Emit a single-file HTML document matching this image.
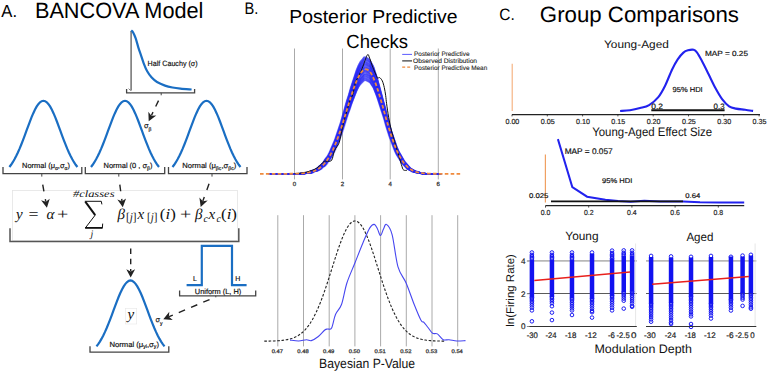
<!DOCTYPE html>
<html><head><meta charset="utf-8"><style>
html,body{margin:0;padding:0;background:#fff;width:768px;height:372px;overflow:hidden;}
svg{display:block;text-rendering:geometricPrecision;}

</style></head><body>
<svg width="768" height="372" viewBox="0 0 768 372"><text x="1.27" y="16.5" font-size="17.5" font-family='"Liberation Sans", sans-serif' fill="#000" textLength="15.75" lengthAdjust="spacingAndGlyphs">A.</text>
<text x="34.92" y="18.3" font-size="22.2" font-family='"Liberation Sans", sans-serif' fill="#000" textLength="168.54" lengthAdjust="spacingAndGlyphs">BANCOVA Model</text>
<line x1="131.1" y1="31" x2="131.1" y2="90.4" stroke="#666" stroke-width="1.4" />
<path d="M131.2,30.4 C131.5,30.7 132.25,30.87 133,32.2 C133.75,33.53 134.82,35.88 135.7,38.4 C136.58,40.92 137.42,44.48 138.3,47.3 C139.18,50.12 140.1,52.63 141,55.3 C141.9,57.97 142.67,60.63 143.7,63.3 C144.73,65.97 145.87,68.92 147.2,71.3 C148.53,73.68 150.07,75.82 151.7,77.6 C153.33,79.38 154.78,80.67 157,82 C159.22,83.33 162.42,84.68 165,85.6 C167.58,86.52 169.92,87 172.5,87.5 C175.08,88 177.32,88.27 180.5,88.6 C183.68,88.93 189.75,89.35 191.6,89.5" stroke="#1a6ec3" stroke-width="2.2" fill="none" />
<path d="M128.6,88.6 L130.2,90.2 L131.1,90.2" stroke="#777" stroke-width="0.9" fill="none" />
<text x="147.6" y="66.3" font-size="7.6" font-family='"Liberation Sans", sans-serif' fill="#111" textLength="50" lengthAdjust="spacingAndGlyphs" stroke="#111" stroke-width="0.18">Half Cauchy (σ)</text>
<path d="M126.6,89 L126.6,92.8 L194.6,92.8 L194.6,89" stroke="#444" stroke-width="1.3" fill="none" stroke-linejoin="miter"/>
<line x1="161.2" y1="92.8" x2="161.2" y2="95.3" stroke="#444" stroke-width="1" />
<path d="M9.4,167 L11.1,164.77 L12.8,162.21 L14.5,159.31 L16.2,156.07 L17.9,152.51 L19.6,148.63 L21.3,144.47 L23,140.1 L24.7,135.55 L26.4,130.92 L28.1,126.3 L29.8,121.77 L31.5,117.44 L33.2,113.41 L34.9,109.8 L36.6,106.69 L38.3,104.17 L40,102.32 L41.7,101.18 L43.4,100.8 L45.1,101.18 L46.8,102.32 L48.5,104.17 L50.2,106.69 L51.9,109.8 L53.6,113.41 L55.3,117.44 L57,121.77 L58.7,126.3 L60.4,130.92 L62.1,135.55 L63.8,140.1 L65.5,144.47 L67.2,148.63 L68.9,152.51 L70.6,156.07 L72.3,159.31 L74,162.21 L75.7,164.77 L77.4,167" stroke="#1a6ec3" stroke-width="2.2" fill="none" stroke-linecap="butt"/>
<path d="M91,167 L92.7,164.77 L94.4,162.21 L96.1,159.31 L97.8,156.07 L99.5,152.51 L101.2,148.63 L102.9,144.47 L104.6,140.1 L106.3,135.55 L108,130.92 L109.7,126.3 L111.4,121.77 L113.1,117.44 L114.8,113.41 L116.5,109.8 L118.2,106.69 L119.9,104.17 L121.6,102.32 L123.3,101.18 L125,100.8 L126.7,101.18 L128.4,102.32 L130.1,104.17 L131.8,106.69 L133.5,109.8 L135.2,113.41 L136.9,117.44 L138.6,121.77 L140.3,126.3 L142,130.92 L143.7,135.55 L145.4,140.1 L147.1,144.47 L148.8,148.63 L150.5,152.51 L152.2,156.07 L153.9,159.31 L155.6,162.21 L157.3,164.77 L159,167" stroke="#1a6ec3" stroke-width="2.2" fill="none" stroke-linecap="butt"/>
<path d="M172.5,167 L174.2,164.77 L175.9,162.21 L177.6,159.31 L179.3,156.07 L181,152.51 L182.7,148.63 L184.4,144.47 L186.1,140.1 L187.8,135.55 L189.5,130.92 L191.2,126.3 L192.9,121.77 L194.6,117.44 L196.3,113.41 L198,109.8 L199.7,106.69 L201.4,104.17 L203.1,102.32 L204.8,101.18 L206.5,100.8 L208.2,101.18 L209.9,102.32 L211.6,104.17 L213.3,106.69 L215,109.8 L216.7,113.41 L218.4,117.44 L220.1,121.77 L221.8,126.3 L223.5,130.92 L225.2,135.55 L226.9,140.1 L228.6,144.47 L230.3,148.63 L232,152.51 L233.7,156.07 L235.4,159.31 L237.1,162.21 L238.8,164.77 L240.5,167" stroke="#1a6ec3" stroke-width="2.2" fill="none" stroke-linecap="butt"/>
<path d="M3,167 L3,173.6 L81.8,173.6 L81.8,167" stroke="#444" stroke-width="1.3" fill="none" stroke-linejoin="miter"/>
<line x1="41.8" y1="173.6" x2="41.8" y2="176.6" stroke="#444" stroke-width="1" />
<path d="M85.3,167 L85.3,173.6 L164.7,173.6 L164.7,167" stroke="#444" stroke-width="1.3" fill="none" stroke-linejoin="miter"/>
<line x1="118.8" y1="173.6" x2="118.8" y2="176.6" stroke="#444" stroke-width="1" />
<path d="M168.5,167 L168.5,173.6 L247,173.6 L247,167" stroke="#444" stroke-width="1.3" fill="none" stroke-linejoin="miter"/>
<line x1="212" y1="173.6" x2="212" y2="176.6" stroke="#444" stroke-width="1" />
<text x="22" y="168" font-size="7.4" font-family='"Liberation Sans", sans-serif' fill="#111" textLength="48" lengthAdjust="spacingAndGlyphs" stroke="#111" stroke-width="0.18">Normal (μ<tspan dy="1.6" font-size="5">α</tspan><tspan dy="-1.6">,σ</tspan><tspan dy="1.6" font-size="5">α</tspan><tspan dy="-1.6">)</tspan></text>
<text x="103.5" y="168" font-size="7.4" font-family='"Liberation Sans", sans-serif' fill="#111" textLength="49" lengthAdjust="spacingAndGlyphs" stroke="#111" stroke-width="0.18">Normal (0 , σ<tspan dy="1.6" font-size="5">β</tspan><tspan dy="-1.6">)</tspan></text>
<text x="182.3" y="168" font-size="7.4" font-family='"Liberation Sans", sans-serif' fill="#111" textLength="54" lengthAdjust="spacingAndGlyphs" stroke="#111" stroke-width="0.18">Normal (μ<tspan dy="1.6" font-size="5">βc</tspan><tspan dy="-1.6">,σ</tspan><tspan dy="1.6" font-size="5">βc</tspan><tspan dy="-1.6">)</tspan></text>
<text x="144" y="128" font-size="7.4" font-family='"Liberation Sans", sans-serif' fill="#111" stroke="#111" stroke-width="0.18">σ<tspan dy="2.5" font-size="5">β</tspan></text>
<line x1="161.2" y1="95" x2="151.41" y2="115.51" stroke="#222" stroke-width="1.4" stroke-dasharray="6.6,6.2" stroke-dashoffset="6.6"/>
<path d="M148.7,121.2 L148.35,111.72 L151.3,115.74 L156.29,115.51 Z" fill="#222"/>
<rect x="12.5" y="190.5" width="225" height="50" fill="none" stroke="#e4e4e4" stroke-width="0.8"/>
<path d="M10,228.2 L10,241.5 L238.8,241.5 L238.8,228.2" stroke="#555" stroke-width="1.5" fill="none" stroke-linejoin="miter"/>
<line x1="130.8" y1="241.5" x2="130.8" y2="241.5" stroke="#555" stroke-width="1" />
<line x1="41.3" y1="176.8" x2="45.78" y2="201.6" stroke="#222" stroke-width="1.4" stroke-dasharray="6.7,8" stroke-dashoffset="6.7"/>
<path d="M46.9,207.8 L41.08,200.32 L45.82,201.85 L49.74,198.75 Z" fill="#222"/>
<line x1="118.8" y1="177" x2="121.98" y2="201.05" stroke="#222" stroke-width="1.4" stroke-dasharray="6.7,7.7" stroke-dashoffset="6.7"/>
<path d="M122.8,207.3 L117.34,199.55 L122.01,201.3 L126.06,198.4 Z" fill="#222"/>
<line x1="211.6" y1="176.8" x2="202.84" y2="201.07" stroke="#222" stroke-width="1.4" stroke-dasharray="6.5,7.5" stroke-dashoffset="6.5"/>
<path d="M200.7,207 L199.41,197.61 L202.75,201.31 L207.69,200.59 Z" fill="#222"/>
<text x="16" y="218.5" font-size="15" font-family='"Liberation Serif", serif' fill="#111" font-style="italic">y</text>
<text x="28.5" y="218.5" font-size="15" font-family='"Liberation Serif", serif' fill="#111" textLength="10" lengthAdjust="spacingAndGlyphs">=</text>
<text x="46.5" y="218.5" font-size="15" font-family='"Liberation Serif", serif' fill="#111" font-style="italic">α</text>
<text x="57" y="218.5" font-size="15" font-family='"Liberation Serif", serif' fill="#111" textLength="11.3" lengthAdjust="spacingAndGlyphs">+</text>
<text x="72.9" y="197.4" font-size="9.8" font-family='"Liberation Serif", serif' fill="#111" font-style="italic" textLength="41.6" lengthAdjust="spacingAndGlyphs">#classes</text>
<path d="M84.8,201.3 L101.3,201.3 L101.9,204.4" stroke="#111" stroke-width="1.0" fill="none" />
<path d="M85.3,201.6 L95.2,215.1" stroke="#111" stroke-width="2.0" fill="none" />
<path d="M95.2,215.1 L85.3,228" stroke="#111" stroke-width="1.0" fill="none" />
<path d="M85.1,227.9 L102.3,227.9" stroke="#111" stroke-width="1.8" fill="none" />
<path d="M102.3,228.4 L102.7,223.6" stroke="#111" stroke-width="1.0" fill="none" />
<text x="90.6" y="236.5" font-size="10" font-family='"Liberation Serif", serif' fill="#111" font-style="italic">j</text>
<text x="117.5" y="218.5" font-size="15" font-family='"Liberation Serif", serif' fill="#111" font-style="italic">β</text>
<text x="125.9" y="221.3" font-size="12" font-family='"Liberation Serif", serif' fill="#111" textLength="10.6" lengthAdjust="spacingAndGlyphs">[<tspan font-style="italic">j</tspan>]</text>
<text x="137.6" y="218.5" font-size="15" font-family='"Liberation Serif", serif' fill="#111" font-style="italic">x</text>
<text x="147.1" y="221.3" font-size="12" font-family='"Liberation Serif", serif' fill="#111" textLength="10.4" lengthAdjust="spacingAndGlyphs">[<tspan font-style="italic">j</tspan>]</text>
<text x="159.8" y="218.5" font-size="15" font-family='"Liberation Serif", serif' fill="#111" textLength="16" lengthAdjust="spacingAndGlyphs">(<tspan font-style="italic">i</tspan>)</text>
<text x="180" y="218.5" font-size="15" font-family='"Liberation Serif", serif' fill="#111" textLength="11.3" lengthAdjust="spacingAndGlyphs">+</text>
<text x="195" y="218.5" font-size="15" font-family='"Liberation Serif", serif' fill="#111" font-style="italic">β</text>
<text x="203.5" y="221.8" font-size="10" font-family='"Liberation Serif", serif' fill="#111" font-style="italic">c</text>
<text x="208.5" y="218.5" font-size="15" font-family='"Liberation Serif", serif' fill="#111" font-style="italic">x</text>
<text x="216.5" y="221.8" font-size="10" font-family='"Liberation Serif", serif' fill="#111" font-style="italic">c</text>
<text x="221" y="218.5" font-size="15" font-family='"Liberation Serif", serif' fill="#111" textLength="16" lengthAdjust="spacingAndGlyphs">(<tspan font-style="italic">i</tspan>)</text>
<path d="M186.6,285.2 L201.8,285.2 L201.8,245.8 L232,245.8 L232,285.2 L246.6,285.2" stroke="#1a6ec3" stroke-width="2.2" fill="none" />
<text x="193" y="281.3" font-size="7" font-family='"Liberation Sans", sans-serif' fill="#111" stroke="#111" stroke-width="0.18">L</text>
<text x="235.3" y="281.3" font-size="7" font-family='"Liberation Sans", sans-serif' fill="#111" stroke="#111" stroke-width="0.18">H</text>
<path d="M179.6,290.6 L179.6,295.8 L255.7,295.8 L255.7,290.6" stroke="#444" stroke-width="1.3" fill="none" stroke-linejoin="miter"/>
<line x1="215.8" y1="295.8" x2="215.8" y2="297.3" stroke="#444" stroke-width="1" />
<text x="194.8" y="293.6" font-size="7.4" font-family='"Liberation Sans", sans-serif' fill="#111" textLength="46.5" lengthAdjust="spacingAndGlyphs" stroke="#111" stroke-width="0.18">Uniform (L, H)</text>
<path d="M96.5,346.3 L98.2,344.08 L99.9,341.54 L101.6,338.66 L103.3,335.44 L105,331.89 L106.7,328.04 L108.4,323.91 L110.1,319.56 L111.8,315.04 L113.5,310.44 L115.2,305.84 L116.9,301.34 L118.6,297.04 L120.3,293.04 L122,289.44 L123.7,286.35 L125.4,283.85 L127.1,282.01 L128.8,280.88 L130.5,280.5 L132.2,280.88 L133.9,282.01 L135.6,283.85 L137.3,286.35 L139,289.44 L140.7,293.04 L142.4,297.04 L144.1,301.34 L145.8,305.84 L147.5,310.44 L149.2,315.04 L150.9,319.56 L152.6,323.91 L154.3,328.04 L156,331.89 L157.7,335.44 L159.4,338.66 L161.1,341.54 L162.8,344.08 L164.5,346.3" stroke="#1a6ec3" stroke-width="2.2" fill="none" stroke-linecap="butt"/>
<rect x="125.3" y="308.4" width="11.4" height="15.6" fill="none" stroke="#e6e6e6" stroke-width="0.6"/>
<text x="127.6" y="319.2" font-size="15" font-family='"Liberation Serif", serif' fill="#111" font-style="italic">y</text>
<text x="155.5" y="322" font-size="7.4" font-family='"Liberation Sans", sans-serif' fill="#111" stroke="#111" stroke-width="0.18">σ<tspan dy="2.5" font-size="5">y</tspan></text>
<text x="109.4" y="346.6" font-size="7.4" font-family='"Liberation Sans", sans-serif' fill="#111" textLength="49.6" lengthAdjust="spacingAndGlyphs" stroke="#111" stroke-width="0.18">Normal (μ<tspan dy="1.6" font-size="5">yi</tspan><tspan dy="-1.6">,σ</tspan><tspan dy="1.6" font-size="5">y</tspan><tspan dy="-1.6">)</tspan></text>
<path d="M90,346.3 L90,352.2 L168.8,352.2 L168.8,346.3" stroke="#444" stroke-width="1.3" fill="none" stroke-linejoin="miter"/>
<line x1="130.7" y1="243.9" x2="130.7" y2="271.3" stroke="#222" stroke-width="1.4" stroke-dasharray="5.6,4.6" stroke-dashoffset="5.6"/>
<path d="M130.7,277.6 L126.3,269.2 L130.7,271.55 L135.1,269.2 Z" fill="#222"/>
<line x1="215.5" y1="297" x2="169.1" y2="316.73" stroke="#222" stroke-width="1.4" stroke-dasharray="6.8,6.5" stroke-dashoffset="6.8"/>
<path d="M163.3,319.2 L169.31,311.86 L168.87,316.83 L172.75,319.96 Z" fill="#222"/>
<text x="244.4" y="13.7" font-size="16.9" font-family='"Liberation Sans", sans-serif' fill="#000" textLength="13.83" lengthAdjust="spacingAndGlyphs">B.</text>
<text x="289.31" y="23.2" font-size="18.9" font-family='"Liberation Sans", sans-serif' fill="#000" textLength="168.14" lengthAdjust="spacingAndGlyphs">Posterior Predictive</text>
<text x="346.36" y="48.2" font-size="19.1" font-family='"Liberation Sans", sans-serif' fill="#000" textLength="61.62" lengthAdjust="spacingAndGlyphs">Checks</text>
<line x1="294.5" y1="48.5" x2="294.5" y2="179.4" stroke="#a0a0a0" stroke-width="0.9" />
<line x1="342.5" y1="48.5" x2="342.5" y2="179.4" stroke="#a0a0a0" stroke-width="0.9" />
<line x1="390.2" y1="48.5" x2="390.2" y2="179.4" stroke="#a0a0a0" stroke-width="0.9" />
<line x1="438.3" y1="48.5" x2="438.3" y2="179.4" stroke="#a0a0a0" stroke-width="0.9" />
<text x="294.5" y="185.8" font-size="6.1" font-family='"Liberation Sans", sans-serif' fill="#333" text-anchor="middle" stroke="#333" stroke-width="0.25">0</text>
<text x="342.5" y="185.8" font-size="6.1" font-family='"Liberation Sans", sans-serif' fill="#333" text-anchor="middle" stroke="#333" stroke-width="0.25">2</text>
<text x="390.2" y="185.8" font-size="6.1" font-family='"Liberation Sans", sans-serif' fill="#333" text-anchor="middle" stroke="#333" stroke-width="0.25">4</text>
<text x="438.3" y="185.8" font-size="6.1" font-family='"Liberation Sans", sans-serif' fill="#333" text-anchor="middle" stroke="#333" stroke-width="0.25">6</text>
<defs><path id="ug" d="M-5,-0 L-4.9,-0 L-4.8,-0 L-4.7,-0 L-4.6,-0 L-4.5,-0 L-4.4,-0 L-4.3,-0 L-4.2,-0 L-4.1,-0 L-4,-0 L-3.9,-0 L-3.8,-0 L-3.7,-0 L-3.6,-0 L-3.5,-0 L-3.4,-0 L-3.3,-0.01 L-3.2,-0.01 L-3.1,-0.01 L-3,-0.01 L-2.9,-0.02 L-2.8,-0.03 L-2.7,-0.03 L-2.6,-0.04 L-2.5,-0.05 L-2.4,-0.07 L-2.3,-0.08 L-2.2,-0.1 L-2.1,-0.13 L-2,-0.15 L-1.9,-0.18 L-1.8,-0.22 L-1.7,-0.26 L-1.6,-0.3 L-1.5,-0.35 L-1.4,-0.4 L-1.3,-0.45 L-1.2,-0.51 L-1.1,-0.57 L-1,-0.63 L-0.9,-0.68 L-0.8,-0.74 L-0.7,-0.79 L-0.6,-0.84 L-0.5,-0.89 L-0.4,-0.93 L-0.3,-0.96 L-0.2,-0.98 L-0.1,-1 L0,-1 L0.1,-0.99 L0.2,-0.98 L0.3,-0.95 L0.4,-0.92 L0.5,-0.87 L0.6,-0.82 L0.7,-0.76 L0.8,-0.7 L0.9,-0.64 L1,-0.58 L1.1,-0.51 L1.2,-0.45 L1.3,-0.39 L1.4,-0.34 L1.5,-0.29 L1.6,-0.24 L1.7,-0.2 L1.8,-0.17 L1.9,-0.14 L2,-0.11 L2.1,-0.09 L2.2,-0.07 L2.3,-0.05 L2.4,-0.04 L2.5,-0.03 L2.6,-0.02 L2.7,-0.02 L2.8,-0.01 L2.9,-0.01 L3,-0.01 L3.1,-0 L3.2,-0 L3.3,-0 L3.4,-0 L3.5,-0 L3.6,-0 L3.7,-0 L3.8,-0 L3.9,-0" fill="none" vector-effect="non-scaling-stroke"/></defs>
<use href="#ug" transform="translate(366.24,173.8) scale(19.048,93.09)" stroke="#2a2af5" stroke-width="1.25" stroke-opacity="0.4"/>
<use href="#ug" transform="translate(365.96,173.8) scale(18.317,93.34)" stroke="#2a2af5" stroke-width="1.25" stroke-opacity="0.4"/>
<use href="#ug" transform="translate(366,173.8) scale(18.586,93.73)" stroke="#2a2af5" stroke-width="1.25" stroke-opacity="0.4"/>
<use href="#ug" transform="translate(366.04,173.8) scale(18.862,94.36)" stroke="#2a2af5" stroke-width="1.25" stroke-opacity="0.4"/>
<use href="#ug" transform="translate(365.91,173.8) scale(18.798,94.75)" stroke="#2a2af5" stroke-width="1.25" stroke-opacity="0.4"/>
<use href="#ug" transform="translate(365.65,173.8) scale(18.004,95.03)" stroke="#2a2af5" stroke-width="1.25" stroke-opacity="0.4"/>
<use href="#ug" transform="translate(366.33,173.8) scale(17.804,95.65)" stroke="#2a2af5" stroke-width="1.25" stroke-opacity="0.4"/>
<use href="#ug" transform="translate(365.87,173.8) scale(18.914,95.73)" stroke="#2a2af5" stroke-width="1.25" stroke-opacity="0.4"/>
<use href="#ug" transform="translate(366.12,173.8) scale(18.961,96.19)" stroke="#2a2af5" stroke-width="1.25" stroke-opacity="0.4"/>
<use href="#ug" transform="translate(366.24,173.8) scale(18.929,96.99)" stroke="#2a2af5" stroke-width="1.25" stroke-opacity="0.4"/>
<use href="#ug" transform="translate(366.18,173.8) scale(18.340,97.28)" stroke="#2a2af5" stroke-width="1.25" stroke-opacity="0.4"/>
<use href="#ug" transform="translate(366.05,173.8) scale(18.960,97.34)" stroke="#2a2af5" stroke-width="1.25" stroke-opacity="0.4"/>
<use href="#ug" transform="translate(366.08,173.8) scale(18.379,98.11)" stroke="#2a2af5" stroke-width="1.25" stroke-opacity="0.4"/>
<use href="#ug" transform="translate(366.05,173.8) scale(18.368,98.45)" stroke="#2a2af5" stroke-width="1.25" stroke-opacity="0.4"/>
<use href="#ug" transform="translate(365.86,173.8) scale(18.603,98.98)" stroke="#2a2af5" stroke-width="1.25" stroke-opacity="0.4"/>
<use href="#ug" transform="translate(365.94,173.8) scale(17.871,99.24)" stroke="#2a2af5" stroke-width="1.25" stroke-opacity="0.4"/>
<use href="#ug" transform="translate(366.54,173.8) scale(18.428,99.74)" stroke="#2a2af5" stroke-width="1.25" stroke-opacity="0.4"/>
<use href="#ug" transform="translate(366.17,173.8) scale(18.097,99.77)" stroke="#2a2af5" stroke-width="1.25" stroke-opacity="0.4"/>
<use href="#ug" transform="translate(366,173.8) scale(18.584,100.19)" stroke="#2a2af5" stroke-width="1.25" stroke-opacity="0.4"/>
<use href="#ug" transform="translate(365.74,173.8) scale(18.749,100.90)" stroke="#2a2af5" stroke-width="1.25" stroke-opacity="0.4"/>
<use href="#ug" transform="translate(366.28,173.8) scale(18.453,101.43)" stroke="#2a2af5" stroke-width="1.25" stroke-opacity="0.4"/>
<use href="#ug" transform="translate(365.89,173.8) scale(18.302,101.66)" stroke="#2a2af5" stroke-width="1.25" stroke-opacity="0.4"/>
<use href="#ug" transform="translate(365.92,173.8) scale(19.139,102.20)" stroke="#2a2af5" stroke-width="1.25" stroke-opacity="0.4"/>
<use href="#ug" transform="translate(366.12,173.8) scale(19.294,102.50)" stroke="#2a2af5" stroke-width="1.25" stroke-opacity="0.4"/>
<use href="#ug" transform="translate(365.98,173.8) scale(19.464,102.89)" stroke="#2a2af5" stroke-width="1.25" stroke-opacity="0.4"/>
<use href="#ug" transform="translate(366.2,173.8) scale(18.239,103.07)" stroke="#2a2af5" stroke-width="1.25" stroke-opacity="0.4"/>
<use href="#ug" transform="translate(366.03,173.8) scale(18.458,103.31)" stroke="#2a2af5" stroke-width="1.25" stroke-opacity="0.4"/>
<use href="#ug" transform="translate(366.12,173.8) scale(19.356,103.77)" stroke="#2a2af5" stroke-width="1.25" stroke-opacity="0.4"/>
<use href="#ug" transform="translate(366.2,173.8) scale(18.706,104.18)" stroke="#2a2af5" stroke-width="1.25" stroke-opacity="0.4"/>
<use href="#ug" transform="translate(366.11,173.8) scale(19.093,105.02)" stroke="#2a2af5" stroke-width="1.25" stroke-opacity="0.4"/>
<use href="#ug" transform="translate(365.75,173.8) scale(19.266,105.23)" stroke="#2a2af5" stroke-width="1.25" stroke-opacity="0.4"/>
<use href="#ug" transform="translate(366.2,173.8) scale(18.624,105.82)" stroke="#2a2af5" stroke-width="1.25" stroke-opacity="0.4"/>
<use href="#ug" transform="translate(365.67,173.8) scale(19.473,105.92)" stroke="#2a2af5" stroke-width="1.25" stroke-opacity="0.4"/>
<use href="#ug" transform="translate(366.13,173.8) scale(18.834,106.19)" stroke="#2a2af5" stroke-width="1.25" stroke-opacity="0.4"/>
<use href="#ug" transform="translate(366.03,173.8) scale(18.154,106.64)" stroke="#2a2af5" stroke-width="1.25" stroke-opacity="0.4"/>
<use href="#ug" transform="translate(366.01,173.8) scale(19.129,107.06)" stroke="#2a2af5" stroke-width="1.25" stroke-opacity="0.4"/>
<use href="#ug" transform="translate(365.8,173.8) scale(17.769,107.52)" stroke="#2a2af5" stroke-width="1.25" stroke-opacity="0.4"/>
<use href="#ug" transform="translate(365.97,173.8) scale(18.132,108.11)" stroke="#2a2af5" stroke-width="1.25" stroke-opacity="0.4"/>
<use href="#ug" transform="translate(366.14,173.8) scale(19.532,108.51)" stroke="#2a2af5" stroke-width="1.25" stroke-opacity="0.4"/>
<use href="#ug" transform="translate(365.75,173.8) scale(19.219,108.97)" stroke="#2a2af5" stroke-width="1.25" stroke-opacity="0.4"/>
<use href="#ug" transform="translate(366.06,173.8) scale(18.545,109.14)" stroke="#2a2af5" stroke-width="1.25" stroke-opacity="0.4"/>
<use href="#ug" transform="translate(366.03,173.8) scale(18.842,109.68)" stroke="#2a2af5" stroke-width="1.25" stroke-opacity="0.4"/>
<use href="#ug" transform="translate(366.16,173.8) scale(18.896,109.83)" stroke="#2a2af5" stroke-width="1.25" stroke-opacity="0.4"/>
<use href="#ug" transform="translate(366,173.8) scale(18.936,110.13)" stroke="#2a2af5" stroke-width="1.25" stroke-opacity="0.4"/>
<use href="#ug" transform="translate(366.03,173.8) scale(18.639,110.56)" stroke="#2a2af5" stroke-width="1.25" stroke-opacity="0.4"/>
<use href="#ug" transform="translate(365.93,173.8) scale(18.524,111.42)" stroke="#2a2af5" stroke-width="1.25" stroke-opacity="0.4"/>
<use href="#ug" transform="translate(366.16,173.8) scale(18.475,111.45)" stroke="#2a2af5" stroke-width="1.25" stroke-opacity="0.4"/>
<use href="#ug" transform="translate(365.49,173.8) scale(19.456,111.77)" stroke="#2a2af5" stroke-width="1.25" stroke-opacity="0.4"/>
<use href="#ug" transform="translate(366.01,173.8) scale(18.527,112.38)" stroke="#2a2af5" stroke-width="1.25" stroke-opacity="0.4"/>
<use href="#ug" transform="translate(366.13,173.8) scale(18.523,112.56)" stroke="#2a2af5" stroke-width="1.25" stroke-opacity="0.4"/>
<use href="#ug" transform="translate(366.04,173.8) scale(18.747,113.40)" stroke="#2a2af5" stroke-width="1.25" stroke-opacity="0.4"/>
<use href="#ug" transform="translate(365.98,173.8) scale(18.472,113.87)" stroke="#2a2af5" stroke-width="1.25" stroke-opacity="0.4"/>
<use href="#ug" transform="translate(366.04,173.8) scale(19.197,114.03)" stroke="#2a2af5" stroke-width="1.25" stroke-opacity="0.4"/>
<use href="#ug" transform="translate(365.77,173.8) scale(19.115,114.69)" stroke="#2a2af5" stroke-width="1.25" stroke-opacity="0.4"/>
<use href="#ug" transform="translate(366.09,173.8) scale(18.534,114.66)" stroke="#2a2af5" stroke-width="1.25" stroke-opacity="0.4"/>
<use href="#ug" transform="translate(365.93,173.8) scale(18.000,115.36)" stroke="#2a2af5" stroke-width="1.25" stroke-opacity="0.4"/>
<use href="#ug" transform="translate(366.36,173.8) scale(18.827,115.50)" stroke="#2a2af5" stroke-width="1.25" stroke-opacity="0.4"/>
<use href="#ug" transform="translate(365.71,173.8) scale(19.148,116.29)" stroke="#2a2af5" stroke-width="1.25" stroke-opacity="0.4"/>
<use href="#ug" transform="translate(365.86,173.8) scale(18.681,116.59)" stroke="#2a2af5" stroke-width="1.25" stroke-opacity="0.4"/>
<use href="#ug" transform="translate(366.04,173.8) scale(18.639,116.81)" stroke="#2a2af5" stroke-width="1.25" stroke-opacity="0.4"/>
<path d="M294.5,173.6 C295.75,173.48 299.58,173.27 302,172.9 C304.42,172.53 307,171.95 309,171.4 C311,170.85 312.52,170.3 314,169.6 C315.48,168.9 316.65,168.13 317.9,167.2 C319.15,166.27 320.47,164.98 321.5,164 C322.53,163.02 323.1,161.77 324.1,161.3 C325.1,160.83 326.4,161.23 327.5,161.2 C328.6,161.17 329.87,161.58 330.7,161.1 C331.53,160.62 332.05,159.5 332.5,158.3 C332.95,157.1 332.88,155.53 333.4,153.9 C333.92,152.27 334.8,150.02 335.6,148.5 C336.4,146.98 337.53,146.05 338.2,144.8 C338.87,143.55 339.1,142.8 339.6,141 C340.1,139.2 340.52,137.12 341.2,134 C341.88,130.88 342.57,126.77 343.7,122.3 C344.83,117.83 346.83,111.18 348,107.2 C349.17,103.22 350.02,100.2 350.7,98.4 C351.38,96.6 351.53,97.97 352.1,96.4 C352.67,94.83 353.55,91.35 354.1,89 C354.65,86.65 354.83,84.1 355.4,82.3 C355.97,80.5 356.6,80 357.5,78.2 C358.4,76.4 359.8,73.73 360.8,71.5 C361.8,69.27 362.38,67.6 363.5,64.8 C364.62,62 366.48,55.82 367.5,54.7 C368.52,53.58 368.7,55.97 369.6,58.1 C370.5,60.23 371.78,64.6 372.9,67.5 C374.02,70.4 375.52,73.72 376.3,75.5 C377.08,77.28 377.05,77.85 377.6,78.2 C378.15,78.55 378.82,77.15 379.6,77.6 C380.38,78.05 381.52,79.23 382.3,80.9 C383.08,82.57 383.73,85.13 384.3,87.6 C384.87,90.07 385.32,93.02 385.7,95.7 C386.08,98.38 386.1,100.08 386.6,103.7 C387.1,107.32 387.88,112.83 388.7,117.4 C389.52,121.97 390.35,126.53 391.5,131.1 C392.65,135.67 394.35,140.6 395.6,144.8 C396.85,149 397.93,152.67 399,156.3 C400.07,159.93 401.23,164.32 402,166.6 C402.77,168.88 402.77,169.37 403.6,170 C404.43,170.63 406.43,170.33 407,170.4" stroke="#111" stroke-width="1" fill="none" />
<path d="M260,173.8 L261,173.8 L262,173.8 L263,173.8 L264,173.8 L265,173.8 L266,173.8 L267,173.8 L268,173.8 L269,173.8 L270,173.8 L271,173.8 L272,173.8 L273,173.8 L274,173.8 L275,173.8 L276,173.8 L277,173.8 L278,173.8 L279,173.8 L280,173.79 L281,173.79 L282,173.79 L283,173.79 L284,173.79 L285,173.78 L286,173.78 L287,173.78 L288,173.77 L289,173.76 L290,173.76 L291,173.75 L292,173.73 L293,173.72 L294,173.7 L295,173.68 L296,173.65 L297,173.62 L298,173.59 L299,173.55 L300,173.5 L301,173.44 L302,173.37 L303,173.29 L304,173.2 L305,173.09 L306,172.97 L307,172.82 L308,172.66 L309,172.47 L310,172.25 L311,172 L312,171.72 L313,171.39 L314,171.03 L315,170.62 L316,170.16 L317,169.64 L318,169.06 L319,168.42 L320,167.7 L321,166.91 L322,166.03 L323,165.07 L324,164.01 L325,162.86 L326,161.6 L327,160.24 L328,158.76 L329,157.17 L330,155.46 L331,153.62 L332,151.66 L333,149.58 L334,147.37 L335,145.04 L336,142.58 L337,140.01 L338,137.32 L339,134.53 L340,131.63 L341,128.65 L342,125.57 L343,122.43 L344,119.23 L345,115.99 L346,112.72 L347,109.44 L348,106.16 L349,102.91 L350,99.69 L351,96.54 L352,93.48 L353,90.51 L354,87.67 L355,84.97 L356,82.43 L357,80.07 L358,77.9 L359,75.95 L360,74.23 L361,72.75 L362,71.52 L363,70.56 L364,69.86 L365,69.44 L366,69.3 L367,69.46 L368,69.96 L369,70.77 L370,71.9 L371,73.34 L372,75.07 L373,77.07 L374,79.34 L375,81.84 L376,84.55 L377,87.46 L378,90.54 L379,93.76 L380,97.1 L381,100.53 L382,104.02 L383,107.56 L384,111.12 L385,114.68 L386,118.2 L387,121.69 L388,125.1 L389,128.44 L390,131.68 L391,134.82 L392,137.83 L393,140.72 L394,143.46 L395,146.07 L396,148.54 L397,150.86 L398,153.03 L399,155.05 L400,156.93 L401,158.67 L402,160.27 L403,161.75 L404,163.09 L405,164.32 L406,165.43 L407,166.43 L408,167.34 L409,168.15 L410,168.87 L411,169.52 L412,170.09 L413,170.6 L414,171.04 L415,171.43 L416,171.78 L417,172.07 L418,172.33 L419,172.56 L420,172.75 L421,172.92 L422,173.06 L423,173.18 L424,173.28 L425,173.37 L426,173.44 L427,173.51 L428,173.56 L429,173.6 L430,173.64 L431,173.67 L432,173.69 L433,173.71 L434,173.73 L435,173.74 L436,173.75 L437,173.76 L438,173.77 L439,173.78 L440,173.78 L441,173.79 L442,173.79 L443,173.79 L444,173.79 L445,173.79 L446,173.8 L447,173.8 L448,173.8 L449,173.8 L450,173.8 L451,173.8 L452,173.8 L453,173.8 L454,173.8 L455,173.8 L456,173.8 L457,173.8 L458,173.8 L459,173.8 L460,173.8 L461,173.8" stroke="#f08a3c" stroke-width="1.8" fill="none" stroke-dasharray="3.6,2.3"/>
<line x1="402.2" y1="54.4" x2="412" y2="54.4" stroke="#5b5bff" stroke-width="1" />
<line x1="402.2" y1="60.9" x2="412" y2="60.9" stroke="#222" stroke-width="1.1" />
<line x1="402.2" y1="67.1" x2="412" y2="67.1" stroke="#f08a3c" stroke-width="1.1" stroke-dasharray="3,2"/>
<text x="414.08" y="56.1" font-size="6.5" font-family='"Liberation Sans", sans-serif' fill="#222" textLength="55.41" lengthAdjust="spacingAndGlyphs" stroke="#222" stroke-width="0.1">Posterior Predictive</text>
<text x="413.09" y="63.1" font-size="6.5" font-family='"Liberation Sans", sans-serif' fill="#222" textLength="63.95" lengthAdjust="spacingAndGlyphs" stroke="#222" stroke-width="0.1">Observed Distribution</text>
<text x="414.08" y="69.6" font-size="6.5" font-family='"Liberation Sans", sans-serif' fill="#222" textLength="73.14" lengthAdjust="spacingAndGlyphs" stroke="#222" stroke-width="0.1">Posterior Predictive Mean</text>
<line x1="277.8" y1="215.2" x2="277.8" y2="346.4" stroke="#a0a0a0" stroke-width="0.9" />
<line x1="303.5" y1="215.2" x2="303.5" y2="346.4" stroke="#a0a0a0" stroke-width="0.9" />
<line x1="329.2" y1="215.2" x2="329.2" y2="346.4" stroke="#a0a0a0" stroke-width="0.9" />
<line x1="354.9" y1="215.2" x2="354.9" y2="346.4" stroke="#a0a0a0" stroke-width="0.9" />
<line x1="380.6" y1="215.2" x2="380.6" y2="346.4" stroke="#a0a0a0" stroke-width="0.9" />
<line x1="406.3" y1="215.2" x2="406.3" y2="346.4" stroke="#a0a0a0" stroke-width="0.9" />
<line x1="432" y1="215.2" x2="432" y2="346.4" stroke="#a0a0a0" stroke-width="0.9" />
<line x1="457.7" y1="215.2" x2="457.7" y2="346.4" stroke="#a0a0a0" stroke-width="0.9" />
<text x="277.3" y="352.7" font-size="5.2" font-family='"Liberation Sans", sans-serif' fill="#333" text-anchor="middle" textLength="11.3" lengthAdjust="spacingAndGlyphs" stroke="#333" stroke-width="0.25">0.47</text>
<text x="303" y="352.7" font-size="5.2" font-family='"Liberation Sans", sans-serif' fill="#333" text-anchor="middle" textLength="11.3" lengthAdjust="spacingAndGlyphs" stroke="#333" stroke-width="0.25">0.48</text>
<text x="328.7" y="352.7" font-size="5.2" font-family='"Liberation Sans", sans-serif' fill="#333" text-anchor="middle" textLength="11.3" lengthAdjust="spacingAndGlyphs" stroke="#333" stroke-width="0.25">0.49</text>
<text x="354.4" y="352.7" font-size="5.2" font-family='"Liberation Sans", sans-serif' fill="#333" text-anchor="middle" textLength="11.3" lengthAdjust="spacingAndGlyphs" stroke="#333" stroke-width="0.25">0.50</text>
<text x="380.1" y="352.7" font-size="5.2" font-family='"Liberation Sans", sans-serif' fill="#333" text-anchor="middle" textLength="11.3" lengthAdjust="spacingAndGlyphs" stroke="#333" stroke-width="0.25">0.51</text>
<text x="405.8" y="352.7" font-size="5.2" font-family='"Liberation Sans", sans-serif' fill="#333" text-anchor="middle" textLength="11.3" lengthAdjust="spacingAndGlyphs" stroke="#333" stroke-width="0.25">0.52</text>
<text x="431.5" y="352.7" font-size="5.2" font-family='"Liberation Sans", sans-serif' fill="#333" text-anchor="middle" textLength="11.3" lengthAdjust="spacingAndGlyphs" stroke="#333" stroke-width="0.25">0.53</text>
<text x="457.2" y="352.7" font-size="5.2" font-family='"Liberation Sans", sans-serif' fill="#333" text-anchor="middle" textLength="11.3" lengthAdjust="spacingAndGlyphs" stroke="#333" stroke-width="0.25">0.54</text>
<text x="319.1" y="367.9" font-size="13.5" font-family='"Liberation Sans", sans-serif' fill="#111" textLength="96.04" lengthAdjust="spacingAndGlyphs">Bayesian P-Value</text>
<path d="M264.3,341.15 L265.3,341.14 L266.3,341.13 L267.3,341.12 L268.3,341.1 L269.3,341.08 L270.3,341.06 L271.3,341.04 L272.3,341.01 L273.3,340.98 L274.3,340.94 L275.3,340.9 L276.3,340.86 L277.3,340.8 L278.3,340.74 L279.3,340.67 L280.3,340.58 L281.3,340.49 L282.3,340.39 L283.3,340.27 L284.3,340.13 L285.3,339.98 L286.3,339.81 L287.3,339.62 L288.3,339.41 L289.3,339.17 L290.3,338.9 L291.3,338.6 L292.3,338.27 L293.3,337.91 L294.3,337.51 L295.3,337.06 L296.3,336.57 L297.3,336.03 L298.3,335.44 L299.3,334.8 L300.3,334.09 L301.3,333.33 L302.3,332.49 L303.3,331.59 L304.3,330.61 L305.3,329.56 L306.3,328.43 L307.3,327.21 L308.3,325.9 L309.3,324.5 L310.3,323.01 L311.3,321.43 L312.3,319.75 L313.3,317.97 L314.3,316.08 L315.3,314.1 L316.3,312.02 L317.3,309.83 L318.3,307.55 L319.3,305.16 L320.3,302.68 L321.3,300.11 L322.3,297.45 L323.3,294.7 L324.3,291.88 L325.3,288.98 L326.3,286.02 L327.3,283 L328.3,279.93 L329.3,276.82 L330.3,273.67 L331.3,270.51 L332.3,267.34 L333.3,264.18 L334.3,261.03 L335.3,257.91 L336.3,254.83 L337.3,251.81 L338.3,248.85 L339.3,245.98 L340.3,243.21 L341.3,240.54 L342.3,238 L343.3,235.59 L344.3,233.33 L345.3,231.23 L346.3,229.3 L347.3,227.55 L348.3,225.99 L349.3,224.64 L350.3,223.48 L351.3,222.55 L352.3,221.83 L353.3,221.33 L354.3,221.06 L355.3,221.01 L356.3,221.19 L357.3,221.6 L358.3,222.23 L359.3,223.08 L360.3,224.15 L361.3,225.43 L362.3,226.9 L363.3,228.58 L364.3,230.44 L365.3,232.47 L366.3,234.67 L367.3,237.02 L368.3,239.51 L369.3,242.12 L370.3,244.86 L371.3,247.69 L372.3,250.62 L373.3,253.61 L374.3,256.67 L375.3,259.78 L376.3,262.92 L377.3,266.08 L378.3,269.25 L379.3,272.41 L380.3,275.56 L381.3,278.69 L382.3,281.77 L383.3,284.82 L384.3,287.8 L385.3,290.73 L386.3,293.58 L387.3,296.36 L388.3,299.06 L389.3,301.67 L390.3,304.18 L391.3,306.61 L392.3,308.93 L393.3,311.16 L394.3,313.28 L395.3,315.3 L396.3,317.23 L397.3,319.05 L398.3,320.77 L399.3,322.39 L400.3,323.92 L401.3,325.35 L402.3,326.69 L403.3,327.95 L404.3,329.12 L405.3,330.2 L406.3,331.21 L407.3,332.14 L408.3,333 L409.3,333.79 L410.3,334.52 L411.3,335.19 L412.3,335.8 L413.3,336.36 L414.3,336.87 L415.3,337.33 L416.3,337.75 L417.3,338.13 L418.3,338.48 L419.3,338.79 L420.3,339.06 L421.3,339.31 L422.3,339.54 L423.3,339.74 L424.3,339.92 L425.3,340.07 L426.3,340.22 L427.3,340.34 L428.3,340.45 L429.3,340.55 L430.3,340.63 L431.3,340.71 L432.3,340.78 L433.3,340.83 L434.3,340.88 L435.3,340.93 L436.3,340.97 L437.3,341 L438.3,341.03 L439.3,341.05 L440.3,341.08 L441.3,341.09 L442.3,341.11 L443.3,341.12 L444.3,341.14 L445.3,341.15" stroke="#222" stroke-width="1.1" fill="none" stroke-dasharray="2.6,1.7"/>
<path d="M290,340.1 C291.45,340.25 295.97,341.07 298.7,341 C301.43,340.93 304.3,339.77 306.4,339.7 C308.5,339.63 309.37,341.08 311.3,340.6 C313.23,340.12 315.75,338.57 318,336.8 C320.25,335.03 323.18,331.3 324.8,330 C326.42,328.7 326.57,329.33 327.7,329 C328.83,328.67 330.3,330.42 331.6,328 C332.9,325.58 333.85,318.42 335.5,314.5 C337.15,310.58 339.6,309.75 341.5,304.5 C343.4,299.25 344.65,289.95 346.9,283 C349.15,276.05 352.32,269.52 355,262.8 C357.68,256.08 360.53,248.52 363,242.7 C365.47,236.88 367.92,230.95 369.8,227.9 C371.68,224.85 373.02,224.22 374.3,224.4 C375.58,224.58 376.47,227.15 377.5,229 C378.53,230.85 379.5,235.5 380.5,235.5 C381.5,235.5 382.5,230.85 383.5,229 C384.5,227.15 385.07,223.47 386.5,224.4 C387.93,225.33 390.18,227.52 392.1,234.6 C394.02,241.68 395.67,258.83 398,266.9 C400.33,274.97 403.4,276.73 406.1,283 C408.8,289.27 411.72,298.28 414.2,304.5 C416.68,310.72 419.38,317.33 421,320.3 C422.62,323.27 422.73,321.1 423.9,322.3 C425.07,323.5 426.55,325.67 428,327.5 C429.45,329.33 431.03,332.23 432.6,333.3 C434.17,334.37 435.63,332.83 437.4,333.9 C439.17,334.97 441.27,338.73 443.2,339.7 C445.13,340.67 446.73,339.48 449,339.7 C451.27,339.92 454.05,340.85 456.8,341 C459.55,341.15 464.05,340.67 465.5,340.6" stroke="#4646f0" stroke-width="1.1" fill="none" />
<text x="499.21" y="20" font-size="16.5" font-family='"Liberation Sans", sans-serif' fill="#000" textLength="15.5" lengthAdjust="spacingAndGlyphs">C.</text>
<text x="539.89" y="22.2" font-size="22.1" font-family='"Liberation Sans", sans-serif' fill="#000" textLength="199.02" lengthAdjust="spacingAndGlyphs">Group Comparisons</text>
<text x="604.04" y="48.2" font-size="10.9" font-family='"Liberation Sans", sans-serif' fill="#111" textLength="64.82" lengthAdjust="spacingAndGlyphs">Young-Aged</text>
<line x1="512.2" y1="63.7" x2="512.2" y2="111" stroke="#f4ae7a" stroke-width="1.1" />
<line x1="512" y1="114.6" x2="760" y2="114.6" stroke="#222" stroke-width="1.3" />
<line x1="512" y1="114.6" x2="512" y2="116.4" stroke="#222" stroke-width="0.8" />
<text x="512.4" y="123.5" font-size="7.3" font-family='"Liberation Sans", sans-serif' fill="#222" text-anchor="middle" textLength="13.9" lengthAdjust="spacingAndGlyphs" stroke="#222" stroke-width="0.18">0.00</text>
<line x1="547.3" y1="114.6" x2="547.3" y2="116.4" stroke="#222" stroke-width="0.8" />
<text x="547.7" y="123.5" font-size="7.3" font-family='"Liberation Sans", sans-serif' fill="#222" text-anchor="middle" textLength="13.9" lengthAdjust="spacingAndGlyphs" stroke="#222" stroke-width="0.18">0.05</text>
<line x1="582.6" y1="114.6" x2="582.6" y2="116.4" stroke="#222" stroke-width="0.8" />
<text x="583" y="123.5" font-size="7.3" font-family='"Liberation Sans", sans-serif' fill="#222" text-anchor="middle" textLength="13.9" lengthAdjust="spacingAndGlyphs" stroke="#222" stroke-width="0.18">0.10</text>
<line x1="617.9" y1="114.6" x2="617.9" y2="116.4" stroke="#222" stroke-width="0.8" />
<text x="618.3" y="123.5" font-size="7.3" font-family='"Liberation Sans", sans-serif' fill="#222" text-anchor="middle" textLength="13.9" lengthAdjust="spacingAndGlyphs" stroke="#222" stroke-width="0.18">0.15</text>
<line x1="653.2" y1="114.6" x2="653.2" y2="116.4" stroke="#222" stroke-width="0.8" />
<text x="653.6" y="123.5" font-size="7.3" font-family='"Liberation Sans", sans-serif' fill="#222" text-anchor="middle" textLength="13.9" lengthAdjust="spacingAndGlyphs" stroke="#222" stroke-width="0.18">0.20</text>
<line x1="688.5" y1="114.6" x2="688.5" y2="116.4" stroke="#222" stroke-width="0.8" />
<text x="688.9" y="123.5" font-size="7.3" font-family='"Liberation Sans", sans-serif' fill="#222" text-anchor="middle" textLength="13.9" lengthAdjust="spacingAndGlyphs" stroke="#222" stroke-width="0.18">0.25</text>
<line x1="723.8" y1="114.6" x2="723.8" y2="116.4" stroke="#222" stroke-width="0.8" />
<text x="724.2" y="123.5" font-size="7.3" font-family='"Liberation Sans", sans-serif' fill="#222" text-anchor="middle" textLength="13.9" lengthAdjust="spacingAndGlyphs" stroke="#222" stroke-width="0.18">0.30</text>
<line x1="759.1" y1="114.6" x2="759.1" y2="116.4" stroke="#222" stroke-width="0.8" />
<text x="759.5" y="123.5" font-size="7.3" font-family='"Liberation Sans", sans-serif' fill="#222" text-anchor="middle" textLength="13.9" lengthAdjust="spacingAndGlyphs" stroke="#222" stroke-width="0.18">0.35</text>
<path d="M620.1,111 C621.75,110.87 626.68,110.68 630,110.2 C633.32,109.72 636.82,108.95 640,108.1 C643.18,107.25 646.05,106.93 649.1,105.1 C652.15,103.27 655.63,100.33 658.3,97.1 C660.97,93.87 662.82,90.27 665.1,85.7 C667.38,81.13 669.9,74.08 672,69.7 C674.1,65.32 675.8,62.25 677.7,59.4 C679.6,56.55 681.68,54.12 683.4,52.6 C685.12,51.08 686.28,50.77 688,50.3 C689.72,49.83 692.18,49.42 693.7,49.8 C695.22,50.18 695.77,50.8 697.1,52.6 C698.43,54.4 699.78,56.98 701.7,60.6 C703.62,64.22 706.32,69.73 708.6,74.3 C710.88,78.87 713.12,83.82 715.4,88 C717.68,92.18 720.02,96.35 722.3,99.4 C724.58,102.45 726.82,104.77 729.1,106.3 C731.38,107.83 733.33,108.03 736,108.6 C738.67,109.17 742.25,109.32 745.1,109.7 C747.95,110.08 751.77,110.7 753.1,110.9" stroke="#2222ee" stroke-width="2.1" fill="none" />
<line x1="651.3" y1="110.3" x2="724.6" y2="110.3" stroke="#111" stroke-width="2" />
<text x="651.3" y="108.5" font-size="7.8" font-family='"Liberation Sans", sans-serif' fill="#111" textLength="11.7" lengthAdjust="spacingAndGlyphs" stroke="#111" stroke-width="0.18">0.2</text>
<text x="713.6" y="108.5" font-size="7.8" font-family='"Liberation Sans", sans-serif' fill="#111" textLength="11" lengthAdjust="spacingAndGlyphs" stroke="#111" stroke-width="0.18">0.3</text>
<text x="672.5" y="92.1" font-size="7.3" font-family='"Liberation Sans", sans-serif' fill="#111" textLength="30.2" lengthAdjust="spacingAndGlyphs" stroke="#111" stroke-width="0.18">95% HDI</text>
<text x="705" y="55.5" font-size="7.4" font-family='"Liberation Sans", sans-serif' fill="#111" textLength="43" lengthAdjust="spacingAndGlyphs" stroke="#111" stroke-width="0.18">MAP = 0.25</text>
<text x="592.15" y="135.9" font-size="12.3" font-family='"Liberation Sans", sans-serif' fill="#111" textLength="120.05" lengthAdjust="spacingAndGlyphs">Young-Aged Effect Size</text>
<line x1="545.4" y1="154.5" x2="545.4" y2="202.4" stroke="#f0a062" stroke-width="1.2" />
<line x1="545.5" y1="205.6" x2="744.2" y2="205.6" stroke="#222" stroke-width="1.3" />
<line x1="545.5" y1="205.6" x2="545.5" y2="207.6" stroke="#222" stroke-width="0.8" />
<text x="545.5" y="214.5" font-size="7.3" font-family='"Liberation Sans", sans-serif' fill="#222" text-anchor="middle" textLength="9.6" lengthAdjust="spacingAndGlyphs" stroke="#222" stroke-width="0.18">0.0</text>
<line x1="588.7" y1="205.6" x2="588.7" y2="207.6" stroke="#222" stroke-width="0.8" />
<text x="588.7" y="214.5" font-size="7.3" font-family='"Liberation Sans", sans-serif' fill="#222" text-anchor="middle" textLength="9.6" lengthAdjust="spacingAndGlyphs" stroke="#222" stroke-width="0.18">0.2</text>
<line x1="631.9" y1="205.6" x2="631.9" y2="207.6" stroke="#222" stroke-width="0.8" />
<text x="631.9" y="214.5" font-size="7.3" font-family='"Liberation Sans", sans-serif' fill="#222" text-anchor="middle" textLength="9.6" lengthAdjust="spacingAndGlyphs" stroke="#222" stroke-width="0.18">0.4</text>
<line x1="675.1" y1="205.6" x2="675.1" y2="207.6" stroke="#222" stroke-width="0.8" />
<text x="675.1" y="214.5" font-size="7.3" font-family='"Liberation Sans", sans-serif' fill="#222" text-anchor="middle" textLength="9.6" lengthAdjust="spacingAndGlyphs" stroke="#222" stroke-width="0.18">0.6</text>
<line x1="718.3" y1="205.6" x2="718.3" y2="207.6" stroke="#222" stroke-width="0.8" />
<text x="718.3" y="214.5" font-size="7.3" font-family='"Liberation Sans", sans-serif' fill="#222" text-anchor="middle" textLength="9.6" lengthAdjust="spacingAndGlyphs" stroke="#222" stroke-width="0.18">0.8</text>
<path d="M557.9,139.1 L572.3,187.1 L587.1,196.7 L605.4,199.7 L618,201 L630.6,201.7 L644.3,200.8 L660,201.6 L683,201.6 L700,202.3 L720,202.6 L744.2,202.6" stroke="#2222ee" stroke-width="2" fill="none" />
<line x1="551" y1="201.4" x2="683" y2="201.4" stroke="#111" stroke-width="1.8" />
<text x="528.9" y="197.8" font-size="6.9" font-family='"Liberation Sans", sans-serif' fill="#111" textLength="19.5" lengthAdjust="spacingAndGlyphs" stroke="#111" stroke-width="0.18">0.025</text>
<text x="685.3" y="198" font-size="6.8" font-family='"Liberation Sans", sans-serif' fill="#111" textLength="15" lengthAdjust="spacingAndGlyphs" stroke="#111" stroke-width="0.18">0.64</text>
<text x="564.7" y="153.5" font-size="8.1" font-family='"Liberation Sans", sans-serif' fill="#111" textLength="48" lengthAdjust="spacingAndGlyphs" stroke="#111" stroke-width="0.18">MAP = 0.057</text>
<text x="602" y="182.5" font-size="6.8" font-family='"Liberation Sans", sans-serif' fill="#111" textLength="30.4" lengthAdjust="spacingAndGlyphs" stroke="#111" stroke-width="0.18">95% HDI</text>
<line x1="527.2" y1="260.9" x2="636.8" y2="260.9" stroke="#b8b8b8" stroke-width="1.7" />
<line x1="527.2" y1="293.5" x2="636.8" y2="293.5" stroke="#5a5a5a" stroke-width="1.1" />
<line x1="635.6" y1="243.5" x2="635.6" y2="326.5" stroke="#e0e0e0" stroke-width="0.8" />
<circle cx="531.9" cy="252.5" r="1.8" fill="none" stroke="#1212f0" stroke-width="0.95"/>
<circle cx="531.9" cy="254.9" r="1.8" fill="none" stroke="#1212f0" stroke-width="0.95"/>
<circle cx="531.9" cy="256.2" r="1.8" fill="none" stroke="#1212f0" stroke-width="0.95"/>
<circle cx="531.9" cy="257.5" r="1.8" fill="none" stroke="#1212f0" stroke-width="0.95"/>
<circle cx="531.9" cy="258.8" r="1.8" fill="none" stroke="#1212f0" stroke-width="0.95"/>
<rect x="529.65" y="259.6" width="4.5" height="38.1" fill="#1212f0"/>
<circle cx="531.9" cy="297.7" r="1.8" fill="none" stroke="#1212f0" stroke-width="0.95"/>
<circle cx="531.9" cy="298.9" r="1.8" fill="none" stroke="#1212f0" stroke-width="0.95"/>
<circle cx="531.9" cy="300.25" r="1.8" fill="none" stroke="#1212f0" stroke-width="0.95"/>
<circle cx="531.9" cy="301.77" r="1.8" fill="none" stroke="#1212f0" stroke-width="0.95"/>
<circle cx="531.9" cy="303.49" r="1.8" fill="none" stroke="#1212f0" stroke-width="0.95"/>
<circle cx="531.9" cy="305.41" r="1.8" fill="none" stroke="#1212f0" stroke-width="0.95"/>
<circle cx="531.9" cy="307.59" r="1.8" fill="none" stroke="#1212f0" stroke-width="0.95"/>
<circle cx="531.9" cy="310.4" r="1.8" fill="none" stroke="#1212f0" stroke-width="0.95"/>
<circle cx="531.9" cy="321.3" r="1.8" fill="none" stroke="#1212f0" stroke-width="0.95"/>
<circle cx="551.94" cy="252.5" r="1.8" fill="none" stroke="#1212f0" stroke-width="0.95"/>
<circle cx="551.94" cy="254.9" r="1.8" fill="none" stroke="#1212f0" stroke-width="0.95"/>
<circle cx="551.94" cy="256.2" r="1.8" fill="none" stroke="#1212f0" stroke-width="0.95"/>
<circle cx="551.94" cy="257.5" r="1.8" fill="none" stroke="#1212f0" stroke-width="0.95"/>
<circle cx="551.94" cy="258.8" r="1.8" fill="none" stroke="#1212f0" stroke-width="0.95"/>
<rect x="549.69" y="259.6" width="4.5" height="37.4" fill="#1212f0"/>
<circle cx="551.94" cy="297" r="1.8" fill="none" stroke="#1212f0" stroke-width="0.95"/>
<circle cx="551.94" cy="298.2" r="1.8" fill="none" stroke="#1212f0" stroke-width="0.95"/>
<circle cx="551.94" cy="299.61" r="1.8" fill="none" stroke="#1212f0" stroke-width="0.95"/>
<circle cx="551.94" cy="301.26" r="1.8" fill="none" stroke="#1212f0" stroke-width="0.95"/>
<circle cx="551.94" cy="303.2" r="1.8" fill="none" stroke="#1212f0" stroke-width="0.95"/>
<circle cx="551.94" cy="306.2" r="1.8" fill="none" stroke="#1212f0" stroke-width="0.95"/>
<circle cx="551.94" cy="312.6" r="1.8" fill="none" stroke="#1212f0" stroke-width="0.95"/>
<circle cx="551.94" cy="320.1" r="1.8" fill="none" stroke="#1212f0" stroke-width="0.95"/>
<circle cx="571.98" cy="252.5" r="1.8" fill="none" stroke="#1212f0" stroke-width="0.95"/>
<circle cx="571.98" cy="254.9" r="1.8" fill="none" stroke="#1212f0" stroke-width="0.95"/>
<circle cx="571.98" cy="256.2" r="1.8" fill="none" stroke="#1212f0" stroke-width="0.95"/>
<circle cx="571.98" cy="257.5" r="1.8" fill="none" stroke="#1212f0" stroke-width="0.95"/>
<circle cx="571.98" cy="258.8" r="1.8" fill="none" stroke="#1212f0" stroke-width="0.95"/>
<rect x="569.73" y="259.6" width="4.5" height="38.7" fill="#1212f0"/>
<circle cx="571.98" cy="298.3" r="1.8" fill="none" stroke="#1212f0" stroke-width="0.95"/>
<circle cx="571.98" cy="299.5" r="1.8" fill="none" stroke="#1212f0" stroke-width="0.95"/>
<circle cx="571.98" cy="300.86" r="1.8" fill="none" stroke="#1212f0" stroke-width="0.95"/>
<circle cx="571.98" cy="302.4" r="1.8" fill="none" stroke="#1212f0" stroke-width="0.95"/>
<circle cx="571.98" cy="304.14" r="1.8" fill="none" stroke="#1212f0" stroke-width="0.95"/>
<circle cx="571.98" cy="306.11" r="1.8" fill="none" stroke="#1212f0" stroke-width="0.95"/>
<circle cx="571.98" cy="308.34" r="1.8" fill="none" stroke="#1212f0" stroke-width="0.95"/>
<circle cx="571.98" cy="310.4" r="1.8" fill="none" stroke="#1212f0" stroke-width="0.95"/>
<circle cx="571.98" cy="315" r="1.8" fill="none" stroke="#1212f0" stroke-width="0.95"/>
<circle cx="592.02" cy="252.5" r="1.8" fill="none" stroke="#1212f0" stroke-width="0.95"/>
<rect x="589.77" y="253.5" width="4.5" height="45.4" fill="#1212f0"/>
<circle cx="592.02" cy="298.9" r="1.8" fill="none" stroke="#1212f0" stroke-width="0.95"/>
<circle cx="592.02" cy="300.1" r="1.8" fill="none" stroke="#1212f0" stroke-width="0.95"/>
<circle cx="592.02" cy="301.44" r="1.8" fill="none" stroke="#1212f0" stroke-width="0.95"/>
<circle cx="592.02" cy="302.95" r="1.8" fill="none" stroke="#1212f0" stroke-width="0.95"/>
<circle cx="592.02" cy="304.64" r="1.8" fill="none" stroke="#1212f0" stroke-width="0.95"/>
<circle cx="592.02" cy="306.53" r="1.8" fill="none" stroke="#1212f0" stroke-width="0.95"/>
<circle cx="592.02" cy="308.65" r="1.8" fill="none" stroke="#1212f0" stroke-width="0.95"/>
<circle cx="592.02" cy="311.02" r="1.8" fill="none" stroke="#1212f0" stroke-width="0.95"/>
<circle cx="592.02" cy="312.2" r="1.8" fill="none" stroke="#1212f0" stroke-width="0.95"/>
<circle cx="592.02" cy="317.6" r="1.8" fill="none" stroke="#1212f0" stroke-width="0.95"/>
<circle cx="612.06" cy="250.6" r="1.8" fill="none" stroke="#1212f0" stroke-width="0.95"/>
<circle cx="612.06" cy="253" r="1.8" fill="none" stroke="#1212f0" stroke-width="0.95"/>
<circle cx="612.06" cy="254.3" r="1.8" fill="none" stroke="#1212f0" stroke-width="0.95"/>
<circle cx="612.06" cy="255.6" r="1.8" fill="none" stroke="#1212f0" stroke-width="0.95"/>
<circle cx="612.06" cy="256.9" r="1.8" fill="none" stroke="#1212f0" stroke-width="0.95"/>
<circle cx="612.06" cy="258.2" r="1.8" fill="none" stroke="#1212f0" stroke-width="0.95"/>
<rect x="609.81" y="258.5" width="4.5" height="37.4" fill="#1212f0"/>
<circle cx="612.06" cy="295.9" r="1.8" fill="none" stroke="#1212f0" stroke-width="0.95"/>
<circle cx="612.06" cy="297.1" r="1.8" fill="none" stroke="#1212f0" stroke-width="0.95"/>
<circle cx="612.06" cy="298.43" r="1.8" fill="none" stroke="#1212f0" stroke-width="0.95"/>
<circle cx="612.06" cy="299.91" r="1.8" fill="none" stroke="#1212f0" stroke-width="0.95"/>
<circle cx="612.06" cy="301.55" r="1.8" fill="none" stroke="#1212f0" stroke-width="0.95"/>
<circle cx="612.06" cy="303.38" r="1.8" fill="none" stroke="#1212f0" stroke-width="0.95"/>
<circle cx="612.06" cy="305.4" r="1.8" fill="none" stroke="#1212f0" stroke-width="0.95"/>
<circle cx="612.06" cy="307.65" r="1.8" fill="none" stroke="#1212f0" stroke-width="0.95"/>
<circle cx="612.06" cy="310.4" r="1.8" fill="none" stroke="#1212f0" stroke-width="0.95"/>
<circle cx="623.75" cy="250.4" r="1.8" fill="none" stroke="#1212f0" stroke-width="0.95"/>
<circle cx="623.75" cy="252.8" r="1.8" fill="none" stroke="#1212f0" stroke-width="0.95"/>
<circle cx="623.75" cy="254.1" r="1.8" fill="none" stroke="#1212f0" stroke-width="0.95"/>
<circle cx="623.75" cy="255.4" r="1.8" fill="none" stroke="#1212f0" stroke-width="0.95"/>
<rect x="621.5" y="256" width="4.5" height="36.3" fill="#1212f0"/>
<circle cx="623.75" cy="292.3" r="1.8" fill="none" stroke="#1212f0" stroke-width="0.95"/>
<circle cx="623.75" cy="293.5" r="1.8" fill="none" stroke="#1212f0" stroke-width="0.95"/>
<circle cx="623.75" cy="294.93" r="1.8" fill="none" stroke="#1212f0" stroke-width="0.95"/>
<circle cx="623.75" cy="296.63" r="1.8" fill="none" stroke="#1212f0" stroke-width="0.95"/>
<circle cx="623.75" cy="298.65" r="1.8" fill="none" stroke="#1212f0" stroke-width="0.95"/>
<circle cx="623.75" cy="300.7" r="1.8" fill="none" stroke="#1212f0" stroke-width="0.95"/>
<circle cx="623.75" cy="308.6" r="1.8" fill="none" stroke="#1212f0" stroke-width="0.95"/>
<circle cx="632.1" cy="250.4" r="1.8" fill="none" stroke="#1212f0" stroke-width="0.95"/>
<circle cx="632.1" cy="252.8" r="1.8" fill="none" stroke="#1212f0" stroke-width="0.95"/>
<circle cx="632.1" cy="254.1" r="1.8" fill="none" stroke="#1212f0" stroke-width="0.95"/>
<circle cx="632.1" cy="255.4" r="1.8" fill="none" stroke="#1212f0" stroke-width="0.95"/>
<rect x="629.85" y="256" width="4.5" height="35.7" fill="#1212f0"/>
<circle cx="632.1" cy="291.7" r="1.8" fill="none" stroke="#1212f0" stroke-width="0.95"/>
<circle cx="632.1" cy="292.9" r="1.8" fill="none" stroke="#1212f0" stroke-width="0.95"/>
<circle cx="632.1" cy="294.23" r="1.8" fill="none" stroke="#1212f0" stroke-width="0.95"/>
<circle cx="632.1" cy="295.69" r="1.8" fill="none" stroke="#1212f0" stroke-width="0.95"/>
<circle cx="632.1" cy="297.32" r="1.8" fill="none" stroke="#1212f0" stroke-width="0.95"/>
<circle cx="632.1" cy="299.11" r="1.8" fill="none" stroke="#1212f0" stroke-width="0.95"/>
<circle cx="632.1" cy="301.1" r="1.8" fill="none" stroke="#1212f0" stroke-width="0.95"/>
<circle cx="632.1" cy="303.3" r="1.8" fill="none" stroke="#1212f0" stroke-width="0.95"/>
<circle cx="632.1" cy="305.72" r="1.8" fill="none" stroke="#1212f0" stroke-width="0.95"/>
<circle cx="632.1" cy="306.8" r="1.8" fill="none" stroke="#1212f0" stroke-width="0.95"/>
<line x1="534.3" y1="280.5" x2="630.1" y2="272.1" stroke="#e8201c" stroke-width="1.5" />
<line x1="527.2" y1="326.5" x2="636.8" y2="326.5" stroke="#333" stroke-width="1.1" />
<text x="565.34" y="239.5" font-size="11.9" font-family='"Liberation Sans", sans-serif' fill="#111" textLength="33.22" lengthAdjust="spacingAndGlyphs">Young</text>
<line x1="646" y1="260.9" x2="756.3" y2="260.9" stroke="#b8b8b8" stroke-width="1.7" />
<line x1="646" y1="293.5" x2="756.3" y2="293.5" stroke="#5a5a5a" stroke-width="1.1" />
<line x1="755.1" y1="243.5" x2="755.1" y2="326.5" stroke="#e0e0e0" stroke-width="0.8" />
<circle cx="651.09" cy="255.9" r="1.8" fill="none" stroke="#1212f0" stroke-width="0.95"/>
<rect x="648.84" y="257" width="4.5" height="46.8" fill="#1212f0"/>
<circle cx="651.09" cy="303.8" r="1.8" fill="none" stroke="#1212f0" stroke-width="0.95"/>
<circle cx="651.09" cy="305" r="1.8" fill="none" stroke="#1212f0" stroke-width="0.95"/>
<circle cx="651.09" cy="306.31" r="1.8" fill="none" stroke="#1212f0" stroke-width="0.95"/>
<circle cx="651.09" cy="307.73" r="1.8" fill="none" stroke="#1212f0" stroke-width="0.95"/>
<circle cx="651.09" cy="309.28" r="1.8" fill="none" stroke="#1212f0" stroke-width="0.95"/>
<circle cx="651.09" cy="310.97" r="1.8" fill="none" stroke="#1212f0" stroke-width="0.95"/>
<circle cx="651.09" cy="312.81" r="1.8" fill="none" stroke="#1212f0" stroke-width="0.95"/>
<circle cx="651.09" cy="314.82" r="1.8" fill="none" stroke="#1212f0" stroke-width="0.95"/>
<circle cx="651.09" cy="317" r="1.8" fill="none" stroke="#1212f0" stroke-width="0.95"/>
<circle cx="651.09" cy="319.39" r="1.8" fill="none" stroke="#1212f0" stroke-width="0.95"/>
<circle cx="651.09" cy="321.7" r="1.8" fill="none" stroke="#1212f0" stroke-width="0.95"/>
<circle cx="671.05" cy="256.4" r="1.8" fill="none" stroke="#1212f0" stroke-width="0.95"/>
<rect x="668.8" y="257.5" width="4.5" height="45.5" fill="#1212f0"/>
<circle cx="671.05" cy="303" r="1.8" fill="none" stroke="#1212f0" stroke-width="0.95"/>
<circle cx="671.05" cy="304.2" r="1.8" fill="none" stroke="#1212f0" stroke-width="0.95"/>
<circle cx="671.05" cy="305.49" r="1.8" fill="none" stroke="#1212f0" stroke-width="0.95"/>
<circle cx="671.05" cy="306.88" r="1.8" fill="none" stroke="#1212f0" stroke-width="0.95"/>
<circle cx="671.05" cy="308.38" r="1.8" fill="none" stroke="#1212f0" stroke-width="0.95"/>
<circle cx="671.05" cy="309.99" r="1.8" fill="none" stroke="#1212f0" stroke-width="0.95"/>
<circle cx="671.05" cy="311.72" r="1.8" fill="none" stroke="#1212f0" stroke-width="0.95"/>
<circle cx="671.05" cy="313.58" r="1.8" fill="none" stroke="#1212f0" stroke-width="0.95"/>
<circle cx="671.05" cy="315.59" r="1.8" fill="none" stroke="#1212f0" stroke-width="0.95"/>
<circle cx="671.05" cy="317.75" r="1.8" fill="none" stroke="#1212f0" stroke-width="0.95"/>
<circle cx="671.05" cy="320.07" r="1.8" fill="none" stroke="#1212f0" stroke-width="0.95"/>
<circle cx="671.05" cy="322.57" r="1.8" fill="none" stroke="#1212f0" stroke-width="0.95"/>
<circle cx="671.05" cy="324" r="1.8" fill="none" stroke="#1212f0" stroke-width="0.95"/>
<circle cx="691.01" cy="256.8" r="1.8" fill="none" stroke="#1212f0" stroke-width="0.95"/>
<rect x="688.76" y="257.5" width="4.5" height="39.3" fill="#1212f0"/>
<circle cx="691.01" cy="296.8" r="1.8" fill="none" stroke="#1212f0" stroke-width="0.95"/>
<circle cx="691.01" cy="298" r="1.8" fill="none" stroke="#1212f0" stroke-width="0.95"/>
<circle cx="691.01" cy="299.3" r="1.8" fill="none" stroke="#1212f0" stroke-width="0.95"/>
<circle cx="691.01" cy="300.7" r="1.8" fill="none" stroke="#1212f0" stroke-width="0.95"/>
<circle cx="691.01" cy="302.22" r="1.8" fill="none" stroke="#1212f0" stroke-width="0.95"/>
<circle cx="691.01" cy="303.86" r="1.8" fill="none" stroke="#1212f0" stroke-width="0.95"/>
<circle cx="691.01" cy="305.64" r="1.8" fill="none" stroke="#1212f0" stroke-width="0.95"/>
<circle cx="691.01" cy="307.56" r="1.8" fill="none" stroke="#1212f0" stroke-width="0.95"/>
<circle cx="691.01" cy="309.64" r="1.8" fill="none" stroke="#1212f0" stroke-width="0.95"/>
<circle cx="691.01" cy="311.89" r="1.8" fill="none" stroke="#1212f0" stroke-width="0.95"/>
<circle cx="691.01" cy="314.32" r="1.8" fill="none" stroke="#1212f0" stroke-width="0.95"/>
<circle cx="691.01" cy="316.4" r="1.8" fill="none" stroke="#1212f0" stroke-width="0.95"/>
<circle cx="691.01" cy="324" r="1.8" fill="none" stroke="#1212f0" stroke-width="0.95"/>
<circle cx="691.01" cy="326.9" r="1.8" fill="none" stroke="#1212f0" stroke-width="0.95"/>
<circle cx="710.98" cy="255.9" r="1.8" fill="none" stroke="#1212f0" stroke-width="0.95"/>
<rect x="708.73" y="257" width="4.5" height="46.8" fill="#1212f0"/>
<circle cx="710.98" cy="303.8" r="1.8" fill="none" stroke="#1212f0" stroke-width="0.95"/>
<circle cx="710.98" cy="305" r="1.8" fill="none" stroke="#1212f0" stroke-width="0.95"/>
<circle cx="710.98" cy="306.33" r="1.8" fill="none" stroke="#1212f0" stroke-width="0.95"/>
<circle cx="710.98" cy="307.81" r="1.8" fill="none" stroke="#1212f0" stroke-width="0.95"/>
<circle cx="710.98" cy="309.44" r="1.8" fill="none" stroke="#1212f0" stroke-width="0.95"/>
<circle cx="710.98" cy="311.26" r="1.8" fill="none" stroke="#1212f0" stroke-width="0.95"/>
<circle cx="710.98" cy="313.27" r="1.8" fill="none" stroke="#1212f0" stroke-width="0.95"/>
<circle cx="710.98" cy="315.5" r="1.8" fill="none" stroke="#1212f0" stroke-width="0.95"/>
<circle cx="710.98" cy="318.5" r="1.8" fill="none" stroke="#1212f0" stroke-width="0.95"/>
<circle cx="730.94" cy="256.8" r="1.8" fill="none" stroke="#1212f0" stroke-width="0.95"/>
<rect x="728.69" y="256.5" width="4.5" height="43.1" fill="#1212f0"/>
<circle cx="730.94" cy="299.6" r="1.8" fill="none" stroke="#1212f0" stroke-width="0.95"/>
<circle cx="730.94" cy="300.8" r="1.8" fill="none" stroke="#1212f0" stroke-width="0.95"/>
<circle cx="730.94" cy="302.18" r="1.8" fill="none" stroke="#1212f0" stroke-width="0.95"/>
<circle cx="730.94" cy="303.75" r="1.8" fill="none" stroke="#1212f0" stroke-width="0.95"/>
<circle cx="730.94" cy="305.56" r="1.8" fill="none" stroke="#1212f0" stroke-width="0.95"/>
<circle cx="730.94" cy="307.64" r="1.8" fill="none" stroke="#1212f0" stroke-width="0.95"/>
<circle cx="730.94" cy="310.5" r="1.8" fill="none" stroke="#1212f0" stroke-width="0.95"/>
<circle cx="742.58" cy="255.6" r="1.8" fill="none" stroke="#1212f0" stroke-width="0.95"/>
<rect x="740.33" y="256.5" width="4.5" height="36.8" fill="#1212f0"/>
<circle cx="742.58" cy="293.3" r="1.8" fill="none" stroke="#1212f0" stroke-width="0.95"/>
<circle cx="742.58" cy="294.5" r="1.8" fill="none" stroke="#1212f0" stroke-width="0.95"/>
<circle cx="742.58" cy="296" r="1.8" fill="none" stroke="#1212f0" stroke-width="0.95"/>
<circle cx="742.58" cy="297.89" r="1.8" fill="none" stroke="#1212f0" stroke-width="0.95"/>
<circle cx="742.58" cy="299.6" r="1.8" fill="none" stroke="#1212f0" stroke-width="0.95"/>
<circle cx="742.58" cy="305.9" r="1.8" fill="none" stroke="#1212f0" stroke-width="0.95"/>
<circle cx="750.9" cy="254.8" r="1.8" fill="none" stroke="#1212f0" stroke-width="0.95"/>
<rect x="748.65" y="255.5" width="4.5" height="37.8" fill="#1212f0"/>
<circle cx="750.9" cy="293.3" r="1.8" fill="none" stroke="#1212f0" stroke-width="0.95"/>
<circle cx="750.9" cy="294.5" r="1.8" fill="none" stroke="#1212f0" stroke-width="0.95"/>
<circle cx="750.9" cy="295.82" r="1.8" fill="none" stroke="#1212f0" stroke-width="0.95"/>
<circle cx="750.9" cy="297.29" r="1.8" fill="none" stroke="#1212f0" stroke-width="0.95"/>
<circle cx="750.9" cy="298.9" r="1.8" fill="none" stroke="#1212f0" stroke-width="0.95"/>
<circle cx="750.9" cy="300.68" r="1.8" fill="none" stroke="#1212f0" stroke-width="0.95"/>
<circle cx="750.9" cy="302.65" r="1.8" fill="none" stroke="#1212f0" stroke-width="0.95"/>
<circle cx="750.9" cy="304.82" r="1.8" fill="none" stroke="#1212f0" stroke-width="0.95"/>
<circle cx="750.9" cy="307.22" r="1.8" fill="none" stroke="#1212f0" stroke-width="0.95"/>
<circle cx="750.9" cy="308.7" r="1.8" fill="none" stroke="#1212f0" stroke-width="0.95"/>
<line x1="652.1" y1="284.3" x2="748.9" y2="276.4" stroke="#e8201c" stroke-width="1.5" />
<line x1="646" y1="326.5" x2="756.3" y2="326.5" stroke="#333" stroke-width="1.1" />
<text x="686.38" y="240.7" font-size="11.9" font-family='"Liberation Sans", sans-serif' fill="#111" textLength="26.97" lengthAdjust="spacingAndGlyphs">Aged</text>
<text x="526.66" y="337.8" font-size="8.1" font-family='"Liberation Sans", sans-serif' fill="#222" textLength="11.14" lengthAdjust="spacingAndGlyphs" stroke="#222" stroke-width="0.2">-30</text>
<text x="545.46" y="337.8" font-size="8.1" font-family='"Liberation Sans", sans-serif' fill="#222" textLength="11.06" lengthAdjust="spacingAndGlyphs" stroke="#222" stroke-width="0.2">-24</text>
<text x="564.95" y="337.8" font-size="8.1" font-family='"Liberation Sans", sans-serif' fill="#222" textLength="11.39" lengthAdjust="spacingAndGlyphs" stroke="#222" stroke-width="0.2">-18</text>
<text x="584.94" y="337.8" font-size="8.1" font-family='"Liberation Sans", sans-serif' fill="#222" textLength="11.77" lengthAdjust="spacingAndGlyphs" stroke="#222" stroke-width="0.2">-12</text>
<text x="607.96" y="337.8" font-size="8.1" font-family='"Liberation Sans", sans-serif' fill="#222" textLength="6.88" lengthAdjust="spacingAndGlyphs" stroke="#222" stroke-width="0.2">-6</text>
<text x="616.56" y="337.8" font-size="8.1" font-family='"Liberation Sans", sans-serif' fill="#222" textLength="13.16" lengthAdjust="spacingAndGlyphs" stroke="#222" stroke-width="0.2">-2.5</text>
<text x="630.92" y="337.8" font-size="8.1" font-family='"Liberation Sans", sans-serif' fill="#222" textLength="5.47" lengthAdjust="spacingAndGlyphs" stroke="#222" stroke-width="0.2">0</text>
<text x="644.05" y="337.6" font-size="8.1" font-family='"Liberation Sans", sans-serif' fill="#222" textLength="11.57" lengthAdjust="spacingAndGlyphs" stroke="#222" stroke-width="0.2">-30</text>
<text x="664.65" y="337.6" font-size="8.1" font-family='"Liberation Sans", sans-serif' fill="#222" textLength="11.48" lengthAdjust="spacingAndGlyphs" stroke="#222" stroke-width="0.2">-24</text>
<text x="684.66" y="337.6" font-size="8.1" font-family='"Liberation Sans", sans-serif' fill="#222" textLength="11.18" lengthAdjust="spacingAndGlyphs" stroke="#222" stroke-width="0.2">-18</text>
<text x="704.05" y="337.6" font-size="8.1" font-family='"Liberation Sans", sans-serif' fill="#222" textLength="11.66" lengthAdjust="spacingAndGlyphs" stroke="#222" stroke-width="0.2">-12</text>
<text x="726.33" y="337.6" font-size="8.1" font-family='"Liberation Sans", sans-serif' fill="#222" textLength="7.44" lengthAdjust="spacingAndGlyphs" stroke="#222" stroke-width="0.2">-6</text>
<text x="735.26" y="337.6" font-size="8.1" font-family='"Liberation Sans", sans-serif' fill="#222" textLength="13.16" lengthAdjust="spacingAndGlyphs" stroke="#222" stroke-width="0.2">-2.5</text>
<text x="750.29" y="337.6" font-size="8.1" font-family='"Liberation Sans", sans-serif' fill="#222" textLength="4.42" lengthAdjust="spacingAndGlyphs" stroke="#222" stroke-width="0.2">0</text>
<line x1="526.8" y1="261.1" x2="529.5" y2="261.1" stroke="#999" stroke-width="0.8" />
<line x1="526.8" y1="293.8" x2="529.5" y2="293.8" stroke="#999" stroke-width="0.8" />
<line x1="526.8" y1="326.5" x2="529.5" y2="326.5" stroke="#999" stroke-width="0.8" />
<text x="525.4" y="264" font-size="8.1" font-family='"Liberation Sans", sans-serif' fill="#222" text-anchor="end" stroke="#222" stroke-width="0.18">4</text>
<text x="525.4" y="296.7" font-size="8.1" font-family='"Liberation Sans", sans-serif' fill="#222" text-anchor="end" stroke="#222" stroke-width="0.18">2</text>
<text x="525.4" y="329.4" font-size="8.1" font-family='"Liberation Sans", sans-serif' fill="#222" text-anchor="end" stroke="#222" stroke-width="0.18">0</text>
<text transform="translate(513.9,326) rotate(-90)" x="-0.77" y="0" font-size="11.2" font-family='"Liberation Sans", sans-serif' fill="#111" textLength="72.68" lengthAdjust="spacingAndGlyphs">ln(Firing Rate)</text>
<text x="594.48" y="353.3" font-size="12.2" font-family='"Liberation Sans", sans-serif' fill="#111" textLength="97.53" lengthAdjust="spacingAndGlyphs">Modulation Depth</text></svg>
</body></html>
